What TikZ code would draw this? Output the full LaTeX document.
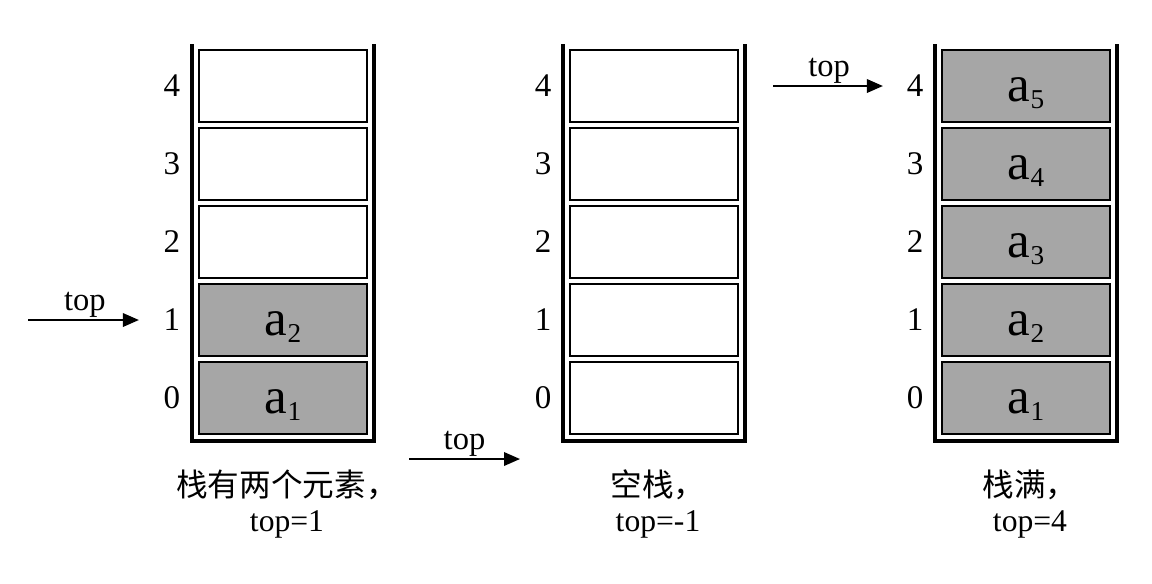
\documentclass[tikz,border=0pt]{standalone}
\usepackage{fontspec}
\setmainfont{Liberation Serif}
\newfontfamily\cjk{Noto Sans CJK SC}
\usetikzlibrary{positioning,arrows.meta}

\tikzset{
  wall/.style={line width=2.6pt},
  cell/.style={draw, line width=1.1pt, minimum width=3.36cm, minimum height=1.44cm, inner sep=0pt},
  full/.style={cell, fill=black!35, font=\fontsize{29}{29}\selectfont},
  idx/.style={inner sep=0pt, font=\fontsize{18.8}{18.8}\selectfont},
  lbl/.style={inner sep=1pt, font=\fontsize{18.5}{18.5}\selectfont},
  caption/.style={align=center, font=\fontsize{18}{19.5}\selectfont},
  ptr/.style={line width=1.1pt, -{Triangle[length=0.32cm,width=0.27cm]}}
}

% a_k with a lowered, smaller index
\newcommand{\elem}[1]{\raisebox{-0.3cm}[0pt][0pt]{a\raisebox{-4.5pt}{\fontsize{15.5}{15.5}\selectfont #1}}}

% stack: name, x of left wall, cells in use, caption
\newcommand{\StackFrame}[4]{%
  \draw[wall] (#2,44) -- (#2,441) -- (#2+182,441) -- (#2+182,44);
  \foreach \k in {0,...,4}{
    \node[idx] (#1n\k) at (#2-20,398-78*\k) {\k};
    \pgfmathtruncatemacro\m{\k+1}
    \ifnum\k<#3
      \node[full] (#1c\k) at (#2+91,398-78*\k) {\elem{\m}};
    \else
      \node[cell] (#1c\k) at (#2+91,398-78*\k) {};
    \fi
  }
  \node[caption] (#1cap) at (#2+95,504) {#4};
}

\begin{document}
\begin{tikzpicture}[x=0.02cm,y=-0.02cm]
  \useasboundingbox (0,0) rectangle (1152,583);

  \StackFrame{s1}{192}{2}{{\cjk 栈有两个元素，}\\top=1}
  \StackFrame{s2}{563}{0}{{\cjk 空栈，}\\top=-1}
  \StackFrame{s3}{935}{5}{{\cjk 栈满，}\\top=4}

  % top pointers
  \coordinate (p1) at (28,320);
  \draw[ptr, shorten >=0.49cm] (p1) -- node[lbl, above, pos=0.42] (t1) {top} (s1n1);
  \coordinate (p2) at (409,459);
  \coordinate (q2) at (520,459);
  \draw[ptr] (p2) -- node[lbl, above] (t2) {top} (q2);
  \coordinate (p3) at (773,86);
  \draw[ptr, shorten >=0.47cm] (p3) -- node[lbl, above, pos=0.42] (t3) {top} (s3n4);
\end{tikzpicture}
\end{document}
